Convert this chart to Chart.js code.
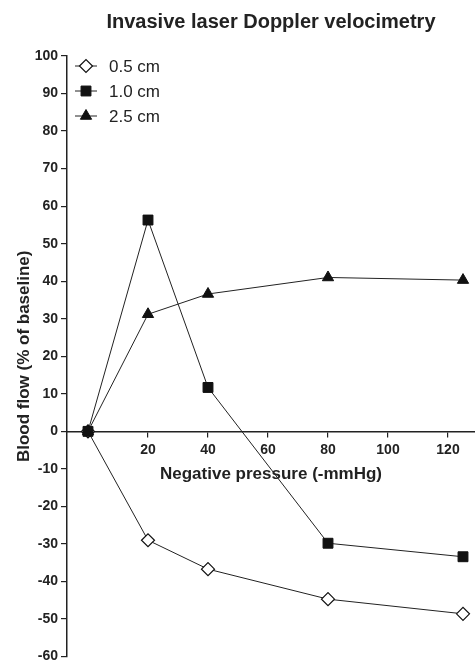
<!DOCTYPE html>
<html>
<head>
  <title>Invasive laser Doppler velocimetry</title>
  <script src="https://cdn.jsdelivr.net/npm/chart.js@4.4.1/dist/chart.umd.min.js"></script>
  <style>
    body { margin: 0; background: #fff; }
  </style>
</head>
<body>
  <canvas id="chartCanvas" width="475" height="661"></canvas>

  <script>
    // values
    const pressure = [0, 20, 40, 80, 125];
    const cm05 = [0, -29, -36.7, -44.7, -48.6];
    const cm10 = [0, 56.3, 11.7, -29.8, -33.4];
    const cm25 = [0, 31.2, 36.6, 41, 40.3];
    const seriesNames = ['0.5 cm', '1.0 cm', '2.5 cm'];
    const xTicks = [20, 40, 60, 80, 100, 120];
    const yTicks = [-60, -50, -40, -30, -20, -10, 0, 10, 20, 30, 40, 50, 60, 70, 80, 90, 100];

    const ink = '#222';
    const fontFamily = '"Liberation Sans", Arial, Helvetica, sans-serif';

    function toPoints(ys) {
      return pressure.map((x, i) => ({ x: x, y: ys[i] }));
    }

    // legend drawn inside the plot: short line with the marker, then the label
    const insideLegend = {
      id: 'insideLegend',
      afterDraw(chart) {
        const ctx = chart.ctx;
        const rows = [66, 91, 116];
        chart.data.datasets.forEach((ds, i) => {
          const y = rows[i];
          ctx.save();
          ctx.strokeStyle = ds.borderColor;
          ctx.lineWidth = 1;
          ctx.beginPath();
          ctx.moveTo(75, y);
          ctx.lineTo(97, y);
          ctx.stroke();

          ctx.fillStyle = ds.pointBackgroundColor;
          ctx.strokeStyle = ds.pointBorderColor;
          ctx.lineWidth = ds.pointBorderWidth;
          Chart.helpers.drawPoint(ctx, {
            pointStyle: ds.pointStyle,
            radius: ds.pointRadius,
            borderWidth: ds.pointBorderWidth
          }, 86, y);

          ctx.fillStyle = ink;
          ctx.font = '17px ' + fontFamily;
          ctx.textBaseline = 'middle';
          ctx.fillText(ds.label, 109, y + 1);
          ctx.restore();
        });
      }
    };

    const ctx = document.getElementById('chartCanvas').getContext('2d');

    new Chart(ctx, {
      type: 'line',
      data: {
        datasets: [
          {
            label: seriesNames[0],
            data: toPoints(cm05),
            borderColor: ink,
            borderWidth: 1,
            pointStyle: 'rectRot',
            pointRadius: 6.5,
            pointBackgroundColor: '#fff',
            pointBorderColor: '#111',
            pointBorderWidth: 1.2,
            order: 2
          },
          {
            label: seriesNames[1],
            data: toPoints(cm10),
            borderColor: ink,
            borderWidth: 1,
            pointStyle: 'rect',
            pointRadius: 7,
            pointBackgroundColor: '#111',
            pointBorderColor: '#111',
            pointBorderWidth: 1,
            order: 0
          },
          {
            label: seriesNames[2],
            data: toPoints(cm25),
            borderColor: ink,
            borderWidth: 1,
            pointStyle: 'triangle',
            pointRadius: 6.5,
            pointBackgroundColor: '#111',
            pointBorderColor: '#111',
            pointBorderWidth: 1,
            order: 1
          }
        ]
      },
      options: {
        responsive: false,
        animation: false,
        layout: { padding: 0, autoPadding: false },
        plugins: {
          legend: { display: false },
          tooltip: { enabled: false },
          title: {
            display: true,
            fullSize: false,
            text: 'Invasive laser Doppler velocimetry',
            color: ink,
            font: { family: fontFamily, size: 20, weight: 'bold', lineHeight: 1.2 },
            padding: { top: 10, bottom: 22 }
          }
        },
        scales: {
          x: {
            type: 'linear',
            position: { y: 0 },
            min: -7,
            max: 129,
            afterBuildTicks: (scale) => { scale.ticks = xTicks.map(v => ({ value: v })); },
            grid: { drawOnChartArea: false, drawTicks: true, tickLength: 5, color: ink, lineWidth: 1.2 },
            border: { color: ink, width: 1.5 },
            ticks: {
              color: ink,
              padding: 7,
              maxRotation: 0,
              font: { family: fontFamily, size: 14, weight: 'bold', lineHeight: 1 }
            },
            title: {
              display: true,
              text: 'Negative pressure (-mmHg)',
              color: ink,
              font: { family: fontFamily, size: 17, weight: 'bold' },
              padding: { top: 0, bottom: 0 }
            }
          },
          y: {
            type: 'linear',
            position: 'left',
            min: -60,
            max: 100,
            afterBuildTicks: (scale) => { scale.ticks = yTicks.map(v => ({ value: v })); },
            afterFit: (scale) => { scale.width = 67; },
            grid: { drawOnChartArea: false, drawTicks: true, tickLength: 6, color: ink, lineWidth: 1.2 },
            border: { color: ink, width: 1.5 },
            ticks: {
              color: ink,
              padding: 3,
              font: { family: fontFamily, size: 14, weight: 'bold', lineHeight: 0.2 }
            },
            title: {
              display: true,
              text: 'Blood flow (% of baseline)',
              color: ink,
              font: { family: fontFamily, size: 17, weight: 'bold' },
              padding: { top: 14, bottom: 0 }
            }
          }
        }
      },
      plugins: [insideLegend]
    });
  </script>
</body>
</html>
